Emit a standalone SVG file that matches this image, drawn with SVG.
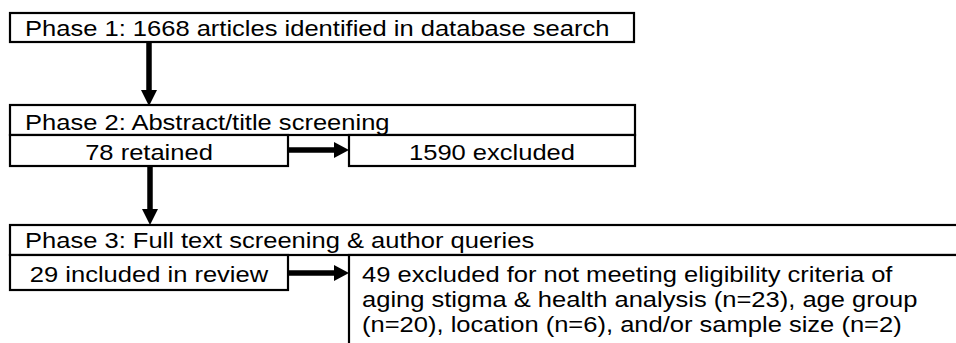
<svg xmlns="http://www.w3.org/2000/svg" width="956" height="343" viewBox="0 0 956 343">
<defs>
<style>
.box{fill:#fff;stroke:#000;stroke-width:2.2}
.t{font-family:"Liberation Sans",Arial,sans-serif;font-size:22.8px;fill:#000}
.c{text-anchor:middle}
.arr{stroke:#000;stroke-width:5.5;fill:none}
.head{fill:#000}
</style>
</defs>
<rect width="956" height="343" fill="#fff"/>
<g id="connectors">
<line class="arr" x1="149" y1="43" x2="149" y2="91"/>
<polygon class="head" points="141,90 157,90 149,106"/>
<line class="arr" x1="150" y1="166" x2="150" y2="210"/>
<polygon class="head" points="142,209 158,209 150,225"/>
<line class="arr" x1="288" y1="150" x2="336" y2="150"/>
<polygon class="head" points="334,142 334,158 349,150"/>
<line class="arr" x1="288" y1="273" x2="336" y2="273"/>
<polygon class="head" points="334,265 334,281 349,273"/>
</g>
<g id="phase1">
<rect class="box" x="10" y="13" width="624" height="29"/>
<text class="t" transform="translate(25,36) scale(1.12,1)">Phase 1: 1668 articles identified in database search</text>
</g>
<g id="phase2">
<rect class="box" x="10" y="105" width="625" height="30"/>
<text class="t" transform="translate(25,130) scale(1.12,1)">Phase 2: Abstract/title screening</text>
</g>
<g id="retained">
<rect class="box" x="10" y="135" width="278" height="31"/>
<text class="t c" transform="translate(149,160) scale(1.12,1)">78 retained</text>
</g>
<g id="excluded1">
<rect class="box" x="349" y="135" width="286" height="31"/>
<text class="t c" transform="translate(492,160) scale(1.12,1)">1590 excluded</text>
</g>
<g id="phase3">
<rect class="box" x="10" y="225" width="960" height="30"/>
<text class="t" transform="translate(25,248) scale(1.12,1)">Phase 3: Full text screening &amp; author queries</text>
</g>
<g id="included">
<rect class="box" x="10" y="255" width="278" height="35"/>
<text class="t c" transform="translate(149,282) scale(1.12,1)">29 included in review</text>
</g>
<g id="excluded2">
<rect class="box" x="349" y="255" width="620" height="100"/>
<text class="t" transform="translate(362,282) scale(1.12,1)">49 excluded for not meeting eligibility criteria of</text>
<text class="t" transform="translate(362,307) scale(1.12,1)">aging stigma &amp; health analysis (n=23), age group</text>
<text class="t" transform="translate(362,332) scale(1.12,1)">(n=20), location (n=6), and/or sample size (n=2)</text>
</g>
</svg>
